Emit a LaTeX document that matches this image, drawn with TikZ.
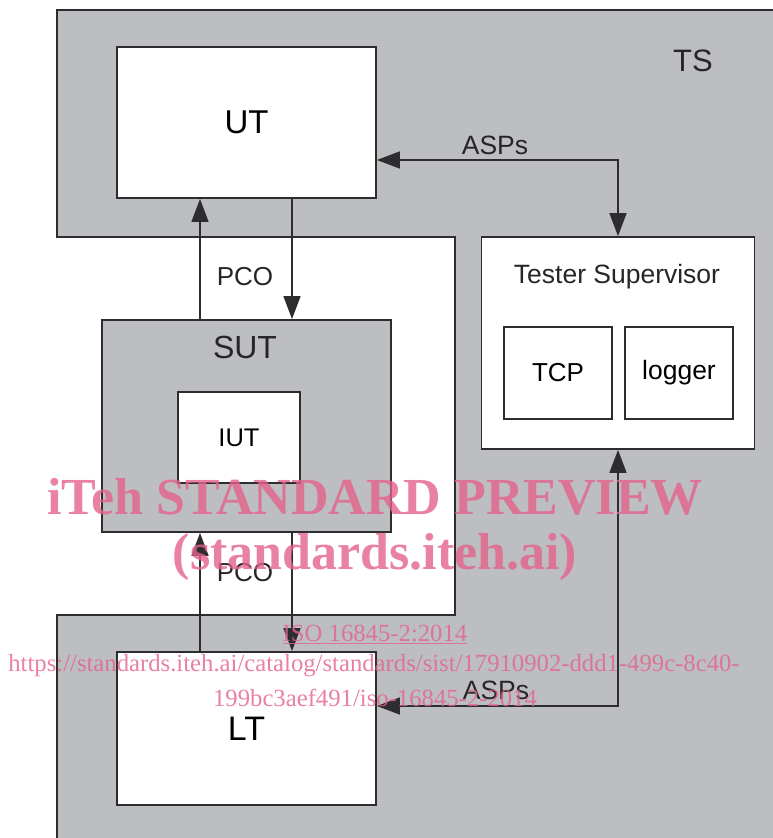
\documentclass[tikz,border=0pt]{standalone}
\usepackage{fontspec}
\setmainfont{Liberation Sans}
\newfontfamily\wmfont{Liberation Serif}
\usetikzlibrary{arrows.meta}
\definecolor{tsgrey}{RGB}{189,190,194}
\definecolor{linegrey}{RGB}{45,45,48}
\definecolor{wmpink}{RGB}{228,98,140}
\tikzset{
    box/.style = {draw=linegrey, line width=1.8pt, fill=white, inner sep=0pt},
    lbl/.style = {text=black!85, inner sep=0pt},
    arr/.style = {draw=linegrey, line width=1.6pt, -{Triangle[length=23pt,width=17pt]}},
    dblarr/.style = {draw=linegrey, line width=1.6pt, {Triangle[length=23pt,width=17pt]}-{Triangle[length=23pt,width=17pt]}},
    wm/.style = {text=wmpink, text opacity=0.8, inner sep=0pt, font=\wmfont},
}
\begin{document}
\begin{tikzpicture}
    [
        x = 1pt, y = -1pt,
    ]
    \useasboundingbox (0,0) rectangle (773,838);
    \clip (0,0) rectangle (773,838);
    % test system area
    \draw[fill=tsgrey, draw=linegrey, line width=1.8pt]
        (57,860) -- (57,615) -- (455,615) -- (455,237) -- (57,237)
        -- (57,10) -- (800,10) -- (800,860) -- cycle;
    \node[lbl, font=\fontsize{31}{36}\selectfont] (tslbl) at (693,61) {TS};

    % boxes
    \node[box, minimum width=259pt, minimum height=151pt,
          font=\fontsize{33}{38}\selectfont] (ut) at (246.5,122.5) {UT};
    \node[box, fill=tsgrey, minimum width=289pt, minimum height=212pt] (sut) at (246.5,426) {};
    \node[lbl, font=\fontsize{32}{37}\selectfont] (sutlbl) at (245,347) {SUT};
    \node[box, minimum width=122pt, minimum height=91pt,
          font=\fontsize{25.5}{30}\selectfont] (iut) at (239,437.5) {IUT};
    \node[box, minimum width=259pt, minimum height=153pt,
          font=\fontsize{34}{39}\selectfont] (lt) at (246.5,728.5) {LT};
    \node[box, minimum width=273pt, minimum height=212pt] (tsup) at (618,343) {};
    \node[lbl, font=\fontsize{26.5}{31}\selectfont] (tsuplbl) at (617,277) {Tester Supervisor};
    \node[box, minimum width=108pt, minimum height=92pt,
          font=\fontsize{26}{31}\selectfont] (tcp) at (558,373) {TCP};
    \node[box, minimum width=108pt, minimum height=92pt,
          font=\fontsize{26.5}{31}\selectfont] (logger) at (679,373) {logger};

    % connectors
    \coordinate (pcoL) at (200,0);
    \coordinate (pcoR) at (292,0);
    \coordinate (aspU) at (0,160);
    \coordinate (aspL) at (0,706);
    \draw[arr] (sut.north -| pcoL) -- (ut.south -| pcoL);
    \draw[arr] (ut.south -| pcoR) -- (sut.north -| pcoR);
    \draw[arr] (lt.north -| pcoL) -- (sut.south -| pcoL);
    \draw[arr] (sut.south -| pcoR) -- (lt.north -| pcoR);
    \draw[dblarr] (ut.east |- aspU) -| (tsup.north);
    \draw[dblarr] (tsup.south) |- (lt.east |- aspL);

    % connector labels
    \node[lbl, font=\fontsize{26}{31}\selectfont] (pcoU) at (245,277) {PCO};
    \node[lbl, font=\fontsize{26}{31}\selectfont] (pcoD) at (245,573) {PCO};
    \node[lbl, font=\fontsize{26.5}{31}\selectfont] (aspsU) at (495,145) {ASPs};
    \node[lbl, font=\fontsize{26.5}{31}\selectfont] (aspsD) at (496,690) {ASPs};

    % watermark
    \node[wm, font=\wmfont\bfseries\fontsize{52}{58}\selectfont] (wm1) at (375,497) {iTeh STANDARD PREVIEW};
    \node[wm, font=\wmfont\bfseries\fontsize{52}{58}\selectfont] (wm2) at (375,557) {(standards.iteh.ai)};
    \node[wm, font=\wmfont\fontsize{24.7}{29}\selectfont] (wm3) at (375,634) {\underline{ISO 16845-2:2014}};
    \node[wm, font=\wmfont\fontsize{24.7}{29}\selectfont] (wm4) at (374,666) {https://standards.iteh.ai/catalog/standards/sist/17910902-ddd1-499c-8c40-};
    \node[wm, font=\wmfont\fontsize{24.7}{29}\selectfont] (wm5) at (375,698) {199bc3aef491/iso-16845-2-2014};
\end{tikzpicture}
\end{document}
